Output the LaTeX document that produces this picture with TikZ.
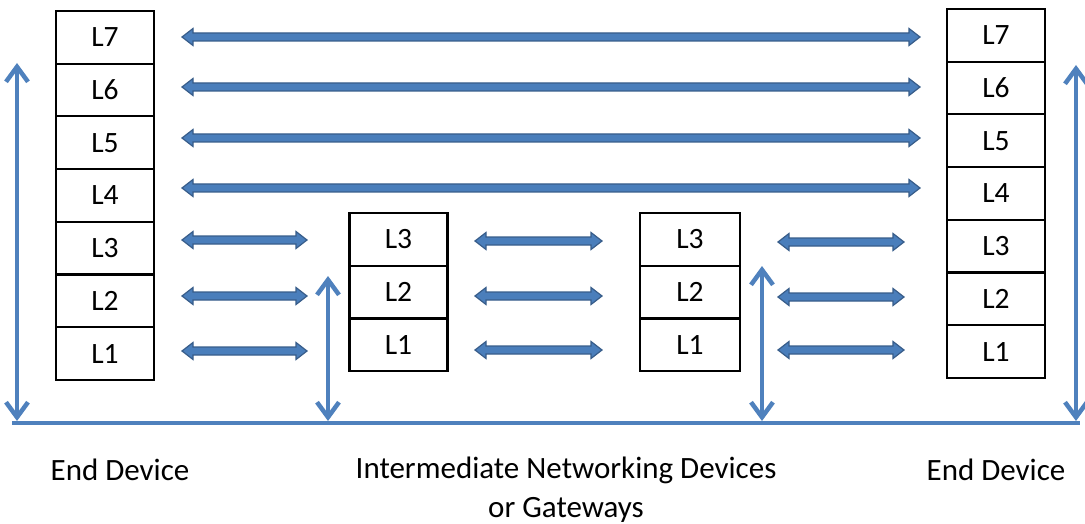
\documentclass[tikz,border=0pt]{standalone}
\usepackage{fontspec}
\setmainfont{Carlito}
\usetikzlibrary{arrows.meta,calc}
\definecolor{bfill}{HTML}{4A7EBB}
\definecolor{bdark}{HTML}{385D8A}
\definecolor{lblue}{HTML}{4F81BD}
\tikzset{
  cell/.style={draw=black, line width=2.2pt, minimum width=98pt, minimum height=52.7pt, inner sep=0pt,
    font=\fontsize{29.5}{34}\selectfont},
  lbl/.style={font=\fontsize{31}{39}\selectfont, align=center, inner sep=0pt},
  blockarrow/.style={draw=bdark, fill=bfill, line width=1.2pt, line join=miter,
    to path={-- ++(11pt,8.5pt) -- ++(0pt,-4.5pt) -- ($(\tikztotarget)+(-11pt,4pt)$) -- ++(0pt,4.5pt)
      -- (\tikztotarget) -- ++(-11pt,-8.5pt) -- ++(0pt,4.5pt) -- ($(\tikztostart)+(11pt,-4pt)$) -- ++(0pt,-4.5pt) -- cycle}},
  thinarrow/.style={draw=lblue, line width=4.5pt,
    {Straight Barb[length=15pt,width=22pt,line width=4.5pt]}-{Straight Barb[length=15pt,width=22pt,line width=4.5pt]}},
}
\begin{document}
\begin{tikzpicture}[x=1pt,y=-1pt]
\useasboundingbox (0,0) rectangle (1085,524);
% end device stacks
\foreach \i/\y in {7/37.35,6/90.05,5/142.75,4/195.45,3/248.15,2/300.85,1/353.55}{
  \node[cell] (l\i) at (105,\y) {L\i};
}
\foreach \i/\y in {7/35.35,6/88.05,5/140.75,4/193.45,3/246.15,2/298.85,1/351.55}{
  \node[cell] (r\i) at (996,\y) {L\i};
}
% intermediate stacks
\foreach \i/\y in {3/239.35,2/292.05,1/344.75}{
  \node[cell] (ma\i) at (398.5,\y) {L\i};
  \node[cell, minimum width=100pt] (mb\i) at (690,\y) {L\i};
}
% block arrow endpoints
\foreach \n/\y in {7/37,6/87,5/138,4/188}{
  \coordinate (p\n a) at (182,\y);
  \coordinate (p\n b) at (920,\y);
}
\foreach \n/\ya/\yb/\yc in {3/240/241/242,2/296/296/297,1/351/350/350}{
  \coordinate (s\n a) at (182,\ya);
  \coordinate (s\n b) at (307,\ya);
  \coordinate (t\n a) at (475,\yb);
  \coordinate (t\n b) at (602,\yb);
  \coordinate (u\n a) at (778,\yc);
  \coordinate (u\n b) at (904,\yc);
}
\foreach \n in {7,6,5,4}{
  \path[blockarrow] (p\n a) to (p\n b);
}
\foreach \n in {3,2,1}{
  \path[blockarrow] (s\n a) to (s\n b);
  \path[blockarrow] (t\n a) to (t\n b);
  \path[blockarrow] (u\n a) to (u\n b);
}
% network line and vertical arrows
\coordinate (bl) at (12,423);
\coordinate (br) at (1080,423);
\draw[draw=lblue, line width=4.5pt] (bl) -- (br);
\coordinate (v1t) at (17,63);   \coordinate (v1b) at (17,421);
\coordinate (v2t) at (328,276); \coordinate (v2b) at (328,421);
\coordinate (v3t) at (762,266); \coordinate (v3b) at (762,421);
\coordinate (v4t) at (1076,65); \coordinate (v4b) at (1076,421);
\foreach \k in {1,2,3,4}{
  \draw[thinarrow] (v\k t) -- (v\k b);
}
% labels
\node[lbl] (ed1) at (120,470) {End Device};
\node[lbl] (mid) at (566,490) {Intermediate Networking Devices\\or Gateways};
\node[lbl] (ed2) at (996,470) {End Device};
\end{tikzpicture}
\end{document}
